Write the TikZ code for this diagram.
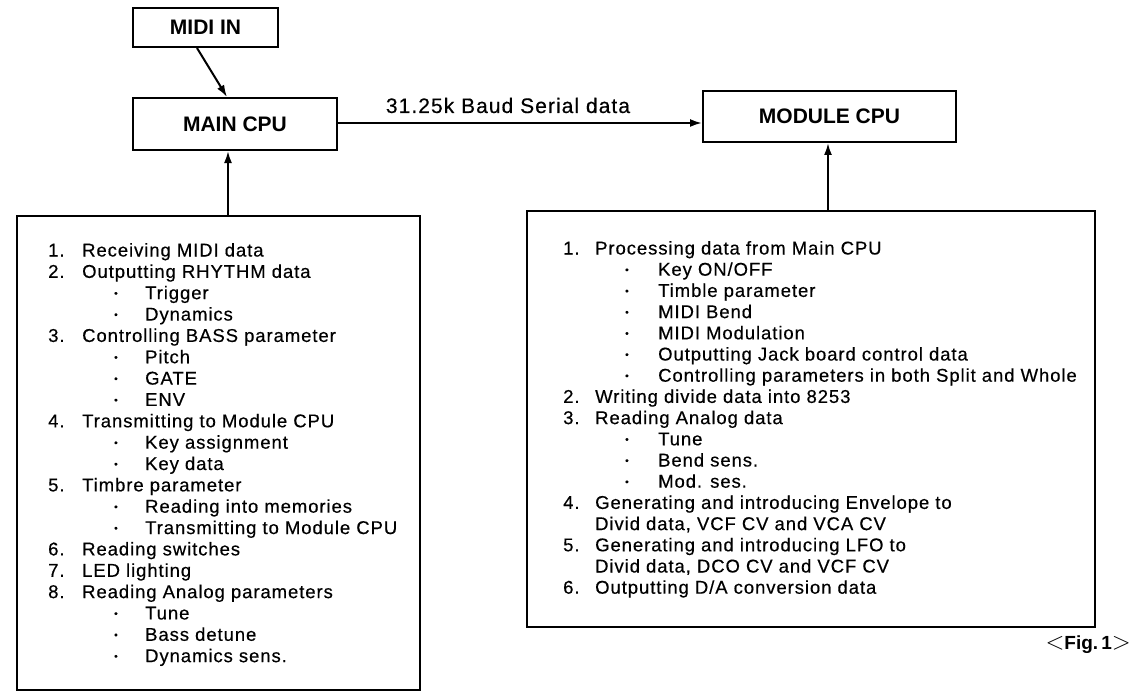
\documentclass[tikz,border=0pt]{standalone}
\usepackage{fontspec}
\setmainfont{Liberation Sans}
\newfontfamily\bodyfont{Liberation Sans}[LetterSpace=5,FakeBold=0.4]
\usetikzlibrary{arrows.meta}
\newcommand\mybullet{\raisebox{2.5bp}{\fontsize{10bp}{10bp}\selectfont\textbullet}}
\begin{document}
\begin{tikzpicture}[x=1bp,y=-1bp,
  box/.style={draw, line width=2bp, inner sep=0},
  lbl/.style={font=\bfseries\fontsize{21bp}{24bp}\selectfont},
  arr/.style={line width=2bp, -{Latex[length=12bp,width=8bp]}},
  txt/.style={anchor=base west, inner sep=0, font=\bodyfont\fontsize{18.5bp}{21bp}\selectfont},
  ]
\useasboundingbox (0,0) rectangle (1135,692);
% boxes
\node[box, lbl, minimum width=145bp, minimum height=39bp] (midi) at (205.5,27.5) {MIDI IN};
\node[box, lbl, minimum width=204bp, minimum height=52bp] (main) at (235,124) {MAIN CPU};
\node[box, lbl, minimum width=253bp, minimum height=51bp] (module) at (829.5,116.5) {MODULE CPU};
\node[box, minimum width=403bp, minimum height=474bp] (lbox) at (218.5,453) {};
\node[box, minimum width=568bp, minimum height=416bp] (rbox) at (811,419) {};
% connectors
\draw[arr] ([xshift=-8.5bp]midi.south) -- ([xshift=-8bp]main.north);
\draw[arr] ([yshift=1bp]main.east) -- ([yshift=1bp]main.east -| module.west);
\node[anchor=base, inner sep=0, font=\bodyfont\fontsize{21bp}{24bp}\selectfont] (serial) at (508,113) {31.25k Baud Serial data};
\draw[arr] ([xshift=9.5bp]lbox.north) -- ([xshift=9.5bp]lbox.north |- main.south);
\draw[arr] ([xshift=17bp]rbox.north) -- ([xshift=17bp]rbox.north |- module.south);
% left list
\foreach [count=\i from 0] \x/\xt/\a/\b in {
 48/82/1./Receiving MIDI data,
 48/82/2./Outputting RHYTHM data,
 114/145/\mybullet/Trigger,
 114/145/\mybullet/Dynamics,
 48/82/3./Controlling BASS parameter,
 114/145/\mybullet/Pitch,
 114/145/\mybullet/GATE,
 114/145/\mybullet/ENV,
 48/82/4./Transmitting to Module CPU,
 114/145/\mybullet/Key assignment,
 114/145/\mybullet/Key data,
 48/82/5./Timbre parameter,
 114/145/\mybullet/Reading into memories,
 114/145/\mybullet/Transmitting to Module CPU,
 48/82/6./Reading switches,
 48/82/7./LED lighting,
 48/82/8./Reading Analog parameters,
 114/145/\mybullet/Tune,
 114/145/\mybullet/Bass detune,
 114/145/\mybullet/Dynamics sens.}
{
 \pgfmathsetmacro\yy{256.5+\i*21.35}
 \node[txt] (ln\i) at (\x,\yy) {\a};
 \node[txt] (lt\i) at (\xt,\yy) {\b};
}
% right list
\foreach [count=\i from 0] \x/\xt/\a/\b in {
 563/595/1./Processing data from Main CPU,
 625/658/\mybullet/{Key ON/OFF},
 625/658/\mybullet/Timble parameter,
 625/658/\mybullet/MIDI Bend,
 625/658/\mybullet/MIDI Modulation,
 625/658/\mybullet/Outputting Jack board control data,
 625/658/\mybullet/Controlling parameters in both Split and Whole,
 563/595/2./Writing divide data into 8253,
 563/595/3./Reading Analog data,
 625/658/\mybullet/Tune,
 625/658/\mybullet/Bend sens.,
 625/658/\mybullet/Mod. ses.,
 563/595/4./Generating and introducing Envelope to,
 563/595/{}/{Divid data, VCF CV and VCA CV},
 563/595/5./Generating and introducing LFO to,
 563/595/{}/{Divid data, DCO CV and VCF CV},
 563/595/6./{Outputting D/A conversion data}}
{
 \pgfmathsetmacro\yy{254.5+\i*21.2}
 \node[txt] (rn\i) at (\x,\yy) {\a};
 \node[txt] (rt\i) at (\xt,\yy) {\b};
}
\node[anchor=east, inner sep=0] (fig) at (1131,645)
  {{\fontsize{26bp}{26bp}\selectfont$<$}{\bfseries\fontsize{19bp}{20bp}\selectfont Fig.\,1}{\fontsize{26bp}{26bp}\selectfont$>$}};
\end{tikzpicture}
\end{document}
